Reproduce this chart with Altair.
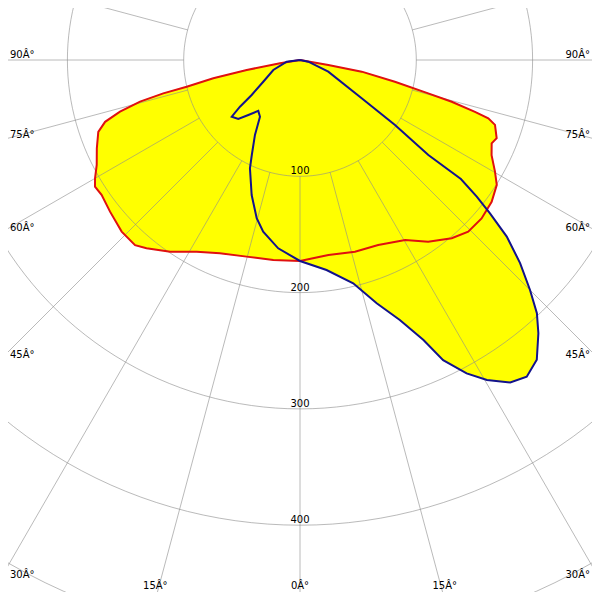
import altair as alt
import pandas as pd
import numpy as np

# Luminous intensity (cd) vs angle from nadir (deg, negative = left half)
red_angle = [-90, -80.6, -79.4, -78.1, -76.7, -76.3, -75.4, -74.0, -72.4, -70.4, -66.5, -62.7,
             -60.0, -58.3, -55.8, -51.4, -46.1, -41.7, -39.2, -34.1, -28.3, -22.5, -15.2, -7.6,
             0.0, 8.3, 16.0, 22.9, 30.3, 35.2, 40.4, 44.4, 48.9, 53.5, 57.6, 60.2, 63.6, 66.5,
             68.3, 71.6, 72.8, 73.5, 74.6, 75.4, 77.1, 79.3, 80.0, 90]
red_cd = [0, 17.4, 46.6, 76.2, 100.1, 121.0, 142.1, 161.0, 175.8, 184.1, 190.5, 196.7,
          203.5, 207.2, 206.3, 209.0, 212.8, 213.2, 208.8, 199.1, 187.3, 179.9, 175.2, 173.5,
          172.8, 169.4, 171.5, 172.7, 179.2, 191.2, 201.3, 206.7, 207.2, 205.0, 200.4, 193.2,
          183.9, 179.7, 182.0, 176.7, 169.5, 156.9, 135.3, 113.9, 83.7, 54.0, 24.7, 0]

blue_angle = [-90, -82.7, -69.5, -59.4, -54.1, -52.1, -50.3, -46.3, -43.2, -39.3, -35.2, -31.0,
              -26.9, -24.8, -19.7, -15.3, -12.1, -6.6, 0.0, 7.2, 13.4, 17.5, 21.0, 23.8, 25.5,
              28.0, 30.3, 33.1, 35.6, 38.3, 41.1, 43.1, 45.0, 47.3, 49.5, 51.1, 52.3, 53.5,
              53.5, 55.6, 58.2, 67.5, 78.4, 90]
blue_cd = [0, 11.5, 24.5, 36.7, 51.3, 65.4, 76.3, 73.4, 64.9, 56.6, 59.7, 75.2,
           91.6, 102.6, 123.3, 141.1, 151.0, 163.0, 172.8, 182.0, 197.4, 219.3, 239.5, 263.1, 285.9,
           305.2, 318.6, 331.0, 334.9, 328.5, 311.8, 298.1, 279.7, 257.5, 233.8, 209.9, 192.1, 172.1,
           137.3, 99.0, 62.4, 26.3, 7.3, 0]

rings = [100, 200, 300, 400, 500]
ring_labels = ["100", "200", "300", "400"]
spoke_step = 15
side_label_angles = [90, 75, 60, 45, 30]
bottom_label_angles = [-15, 0, 15]
deg = "Â°"

# diagram geometry (cd units): pixels per cd, pole position inside the frame
K = 1.163
FX = 300 / K      # frame half width
FTOP = 60 / K     # frame top above pole
FBOT = -540 / K   # frame bottom below pole
M = 8 / K         # page margin
W = 584

xs = alt.Scale(domain=[-FX + M, FX - M], nice=False, zero=False)
ys = alt.Scale(domain=[FBOT + M, FTOP - M], nice=False, zero=False)


def polar_df(angles, cds, name):
    a = np.radians(np.array(angles, dtype=float))
    r = np.array(cds, dtype=float)
    return pd.DataFrame({"X": r * np.sin(a), "Y": -r * np.cos(a),
                         "i": np.arange(len(angles)), "s": name})


red = polar_df(red_angle, red_cd, "red")
blue = polar_df(blue_angle, blue_cd, "blue")

# grid circles
t = np.radians(np.arange(0, 361, 2))
circ = pd.concat([pd.DataFrame({"X": rr * np.sin(t), "Y": -rr * np.cos(t),
                                "i": np.arange(len(t)), "g": rr}) for rr in rings])
# spokes
sp = []
for a in range(0, 360, spoke_step):
    ar = np.radians(a)
    for j, rr in enumerate([100, 800]):
        sp.append({"X": rr * np.sin(ar), "Y": -rr * np.cos(ar), "i": j, "g": a})
spokes = pd.DataFrame(sp)

# labels
left_rows, right_rows, bottom_rows = [], [], []
for a in side_label_angles:
    ar = np.radians(a)
    yv = -FX * np.cos(ar) / np.sin(ar)
    left_rows.append({"X": -FX, "Y": yv, "t": f"{a}{deg}"})
    right_rows.append({"X": FX, "Y": yv, "t": f"{a}{deg}"})
for a in bottom_label_angles:
    ar = np.radians(a)
    bottom_rows.append({"X": -FBOT * np.tan(ar), "Y": FBOT, "t": f"{abs(a)}{deg}"})
ring_rows = [{"X": 0, "Y": -float(v), "t": v} for v in ring_labels]

X = alt.X("X:Q", scale=xs, axis=None)
Y = alt.Y("Y:Q", scale=ys, axis=None)

fills = alt.Chart(pd.concat([red, blue])).mark_line(
    fill="#ffff00", stroke="#ffff00", strokeWidth=0.5, clip=True
).encode(X, Y, detail="s:N", order="i:Q")

grid_c = alt.Chart(circ).mark_line(
    stroke="#8c8c8c", strokeOpacity=0.6, strokeWidth=1, clip=True
).encode(X, Y, detail="g:N", order="i:Q")

grid_s = alt.Chart(spokes).mark_line(
    stroke="#8c8c8c", strokeOpacity=0.6, strokeWidth=1, clip=True
).encode(X, Y, detail="g:N", order="i:Q")

font = dict(font="DejaVu Sans", fontSize=10, color="black", baseline="alphabetic")
lab_l = alt.Chart(pd.DataFrame(left_rows)).mark_text(align="left", dx=10, dy=-2, **font).encode(X, Y, text="t:N")
lab_r = alt.Chart(pd.DataFrame(right_rows)).mark_text(align="right", dx=-10, dy=-2, **font).encode(X, Y, text="t:N")
lab_b = alt.Chart(pd.DataFrame(bottom_rows)).mark_text(align="center", dy=-11, **font).encode(X, Y, text="t:N")
lab_ring = alt.Chart(pd.DataFrame(ring_rows)).mark_text(align="center", dy=-2, **font).encode(X, Y, text="t:N")

red_line = alt.Chart(red).mark_line(stroke="#e01010", strokeWidth=2, clip=True).encode(X, Y, order="i:Q")
blue_line = alt.Chart(blue).mark_line(stroke="#12128c", strokeWidth=2, clip=True).encode(X, Y, order="i:Q")

chart = alt.layer(fills, grid_c, grid_s, lab_l, lab_r, lab_b, lab_ring, red_line, blue_line).properties(
    width=W, height=W, autosize="none", padding=0, background="white",
).configure_view(strokeWidth=0)

chart.save("out.html", embed_options={"renderer": "svg", "actions": False})
